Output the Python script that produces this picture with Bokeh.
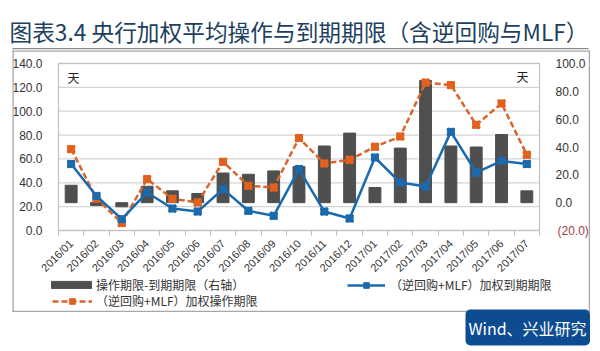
from bokeh.plotting import figure
from bokeh.models import (Range1d, LinearAxis, FixedTicker, NumeralTickFormatter,
                          Label, BoxAnnotation, Legend, LegendItem)
from bokeh.embed import file_html
from bokeh.resources import INLINE
import math

months = ["2016/01", "2016/02", "2016/03", "2016/04", "2016/05", "2016/06", "2016/07",
          "2016/08", "2016/09", "2016/10", "2016/11", "2016/12", "2017/01", "2017/02",
          "2017/03", "2017/04", "2017/05", "2017/06", "2017/07"]
op_term = [68.2, 26.8, 6.2, 43.1, 26.6, 23.5, 57.6, 37.5, 36.0, 77.5, 56.2, 59.3,
           70.2, 78.8, 124.0, 121.9, 88.6, 106.5, 63.5]
mat_term = [55.7, 29.0, 9.5, 31.9, 18.4, 15.9, 34.7, 16.5, 12.3, 51.5, 15.9, 10.1,
            61.2, 40.2, 36.9, 82.7, 48.6, 58.4, 55.7]
diff_term = [12.5, -2.0, -3.0, 11.8, 8.5, 6.6, 21.3, 20.4, 22.8, 26.0, 40.7, 50.0,
             10.9, 39.2, 87.7, 40.7, 40.0, 49.0, 8.5]
left_ticks = [0, 20, 40, 60, 80, 100, 120, 140]
right_ticks = [0, 20, 40, 60, 80, 100]
right_neg_ticks = [-20]

CJK = "Noto Sans CJK SC"
NUM = "Liberation Sans"
ORANGE = "#E2611C"
ORANGE_LINE = "#D8652C"
BLUE = "#1B6AAE"
BAR = "#4F4F4F"
GRID = "#D4D4D4"
FRAME = "#BFBFBF"

W, H = 600, 351
n = len(months)
xs = list(range(n))                      # category positions on the x scale
bounds_x = [i - 0.5 for i in range(n + 1)]
# plot area in canvas px: left 58, right 539, top 63, bottom 230
cw = (539 - 58) / n
x_start = -0.5 - 58 / cw
x_end = n - 0.5 + (W - 539) / cw
ly = (230 - 63) / 140.0
ry = (230 - 63) / 120.0

p = figure(width=W, height=H, output_backend="svg", toolbar_location=None, title=None,
           x_range=Range1d(x_start, x_end),
           y_range=Range1d(-(H - 230) / ly, 140 + 63 / ly),
           x_axis_type=None, y_axis_type=None,
           min_border=0, min_border_left=0, min_border_right=0,
           min_border_top=0, min_border_bottom=0)
p.extra_y_ranges = {"right": Range1d(-20 - (H - 230) / ry, 100 + 63 / ry)}
p.background_fill_color = "white"
p.border_fill_color = "white"
p.outline_line_color = None


def screen_box(l, r, t, b, color, radius=0):
    return BoxAnnotation(left=l, right=r, top=H - t, bottom=H - b,
                         left_units="screen", right_units="screen", top_units="screen",
                         bottom_units="screen", fill_color=color, fill_alpha=1,
                         line_color=None, border_radius=radius)


# horizontal gridlines across the plot area
p.segment(x0=[-0.5] * len(left_ticks), x1=[n - 0.5] * len(left_ticks),
          y0=left_ticks, y1=left_ticks, line_color=GRID, line_width=1.3)
# plot area outline (sides, bottom and top edges)
edge_x = [-0.5, n - 0.5]
p.segment(x0=edge_x, x1=edge_x, y0=[left_ticks[0]] * 2, y1=[left_ticks[-1]] * 2,
          line_color=FRAME, line_width=1.2)
p.segment(x0=[-0.5] * 2, x1=[n - 0.5] * 2, y0=[left_ticks[0], left_ticks[-1]],
          y1=[left_ticks[0], left_ticks[-1]], line_color=FRAME, line_width=1.2)


def style_axis(ax, color="#333333"):
    ax.axis_line_color = None
    ax.major_tick_line_color = None
    ax.minor_tick_line_color = None
    ax.major_label_text_font = NUM
    ax.major_label_text_font_size = "12px"
    ax.major_label_text_color = color


yl = LinearAxis(ticker=FixedTicker(ticks=left_ticks), formatter=NumeralTickFormatter(format="0.0"),
                fixed_location=-0.5)
style_axis(yl)
yl.major_label_standoff = 10
p.add_layout(yl, "left")

yr = LinearAxis(y_range_name="right", ticker=FixedTicker(ticks=right_ticks),
                formatter=NumeralTickFormatter(format="0.0"), fixed_location=n - 0.5)
style_axis(yr)
yr.major_label_standoff = 10
p.add_layout(yr, "right")

yr2 = LinearAxis(y_range_name="right", ticker=FixedTicker(ticks=right_neg_ticks),
                 formatter=NumeralTickFormatter(format="(0.0)"), fixed_location=n - 0.5)
style_axis(yr2, "#A0404A")
yr2.major_label_standoff = 12
p.add_layout(yr2, "right")

# category boundary tick marks
xt = LinearAxis(ticker=FixedTicker(ticks=bounds_x),
                major_label_overrides={b: "" for b in bounds_x}, fixed_location=0)
style_axis(xt)
xt.major_tick_line_color = FRAME
xt.major_tick_in = 0
xt.major_tick_out = 5
p.add_layout(xt, "below")

xa = LinearAxis(ticker=FixedTicker(ticks=xs),
                major_label_overrides={i: m for i, m in zip(xs, months)},
                fixed_location=0)
style_axis(xa)
xa.major_label_text_font_size = "11px"
xa.major_label_orientation = math.pi / 4
xa.major_label_standoff = 5
p.add_layout(xa, "below")

# bars on right axis
bars = p.vbar(x=xs, top=diff_term, bottom=0, width=0.47, color=BAR, y_range_name="right")

# orange: weighted operation term
o_line = p.line(xs, op_term, color=ORANGE_LINE, line_width=2.5, line_dash="6 3")
o_sq = p.scatter(xs, op_term, marker="square", size=7, color=ORANGE)
o_x = p.scatter(xs, op_term, marker="x", size=10, line_width=2.6, color=ORANGE)

# blue: weighted maturity term
b_line = p.line(xs, mat_term, color=BLUE, line_width=2.5)
b_sq = p.scatter(xs, mat_term, marker="square", size=7, color=BLUE)
b_x = p.scatter(xs, mat_term, marker="x", size=10, line_width=2.6, color=BLUE)

# outer frame made of four thin edges
FR = "#A8A8A8"
p.add_layout(screen_box(12, 589.5, 50, 51.3, FR))
p.add_layout(screen_box(12, 589.5, 310.2, 311.5, FR))
p.add_layout(screen_box(12, 13.3, 50, 311.5, FR))
p.add_layout(screen_box(588.2, 589.5, 50, 311.5, FR))

legA = Legend(items=[LegendItem(label="操作期限-到期期限（右轴）", renderers=[bars])],
              location=(46, H - 293), glyph_width=50, glyph_height=9, label_standoff=0)
legB = Legend(items=[LegendItem(label="（逆回购+MLF）加权操作期限", renderers=[o_line, o_sq])],
              location=(52, H - 309), glyph_width=40, glyph_height=14, label_standoff=4)
legC = Legend(items=[LegendItem(label="（逆回购+MLF）加权到期期限", renderers=[b_line, b_sq])],
              location=(347, H - 293), glyph_width=38, glyph_height=14, label_standoff=5)
for lg in (legA, legB, legC):
    lg.label_height = 14
    lg.padding = 0
    lg.margin = 0
    lg.spacing = 0
    lg.border_line_color = None
    lg.background_fill_alpha = 0
    lg.label_text_font = CJK
    lg.label_text_font_size = "12px"
    lg.label_text_color = "#333333"
    lg.label_text_baseline = "middle"
    p.add_layout(lg)

# unit labels
for ux, uy in ((73, 77), (522, 76)):
    p.add_layout(Label(x=ux, y=H - uy, x_units="screen", y_units="screen", text="天",
                       text_font=CJK, text_font_size="12px", text_color="#222222",
                       text_align="center", text_baseline="middle"))

# title and underline
p.add_layout(Label(x=9, y=H - 31, x_units="screen", y_units="screen",
                   text="图表3.4  央行加权平均操作与到期期限（含逆回购与MLF）",
                   text_font=CJK, text_font_size="22.7px", text_color="#203F60",
                   text_baseline="middle", text_align="left"))
p.add_layout(screen_box(12, 588, 47.5, 48.8, "#8C8C8C"))

# source box
p.add_layout(screen_box(465, 589.5, 309, 345, "#0E4C92", 5))
p.add_layout(Label(x=527, y=H - 327, x_units="screen", y_units="screen",
                   text="Wind、兴业研究", text_font=CJK, text_font_size="16px",
                   text_color="white", text_align="center", text_baseline="middle"))

open("out.html", "w").write(file_html(p, INLINE))
